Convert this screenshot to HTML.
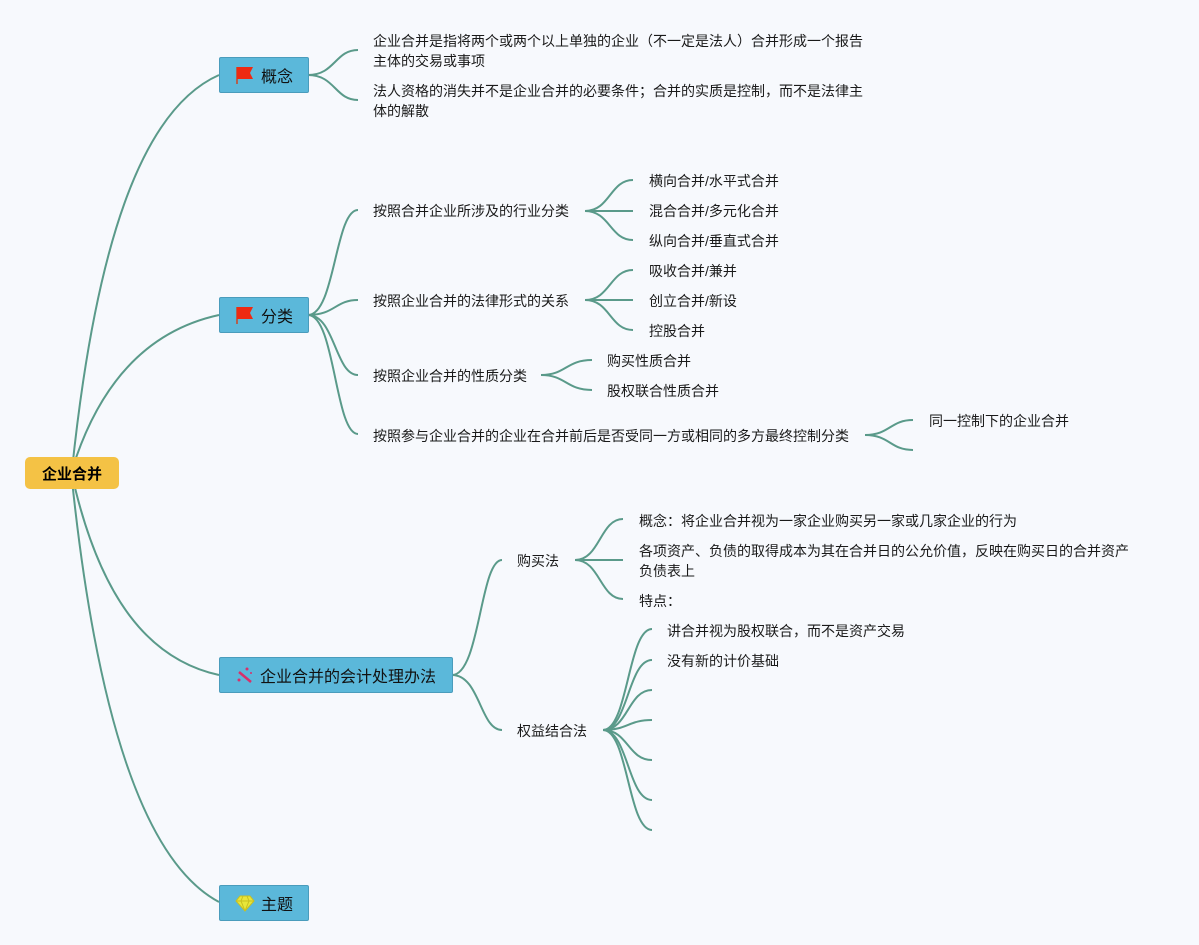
<!DOCTYPE html>
<html><head><meta charset="utf-8"><style>
body{margin:0;background:#f7f9fd;width:1199px;height:945px;overflow:hidden;font-family:"Liberation Sans","Noto Sans CJK SC",sans-serif}
svg{position:absolute;left:0;top:0}
.t{position:absolute;font-size:14px;color:#1a1a1a;line-height:20px;white-space:nowrap}
.b{position:absolute;background:#5bb8da;border:1px solid #4a9cbc;border-radius:2px;box-sizing:border-box;font-size:16px;color:#111;display:flex;align-items:center;justify-content:center;gap:6px}
.flag{display:inline-block;width:20px;height:20px;position:relative}
</style></head><body>
<svg width="1199" height="945" fill="none" stroke="#5a9a8a" stroke-width="2">
<!-- root -->
<path d="M72 470 C 95 250, 140 110, 219 75"/>
<path d="M72 470 C 100 380, 150 330, 219 315"/>
<path d="M72 475 C 100 600, 150 660, 219 675"/>
<path d="M72 480 C 95 700, 140 860, 219 902"/>
<!-- 概念 -->
<path d="M308 75 C 335 75, 335 50, 358 50"/>
<path d="M308 75 C 335 75, 335 100, 358 100"/>
<!-- 分类 -->
<path d="M308 315 C 335 315, 335 210, 358 210"/>
<path d="M308 315 C 335 315, 335 300, 358 300"/>
<path d="M308 315 C 335 315, 335 375, 358 375"/>
<path d="M308 315 C 335 315, 335 434, 358 434"/>
<path d="M585 211 C 610 211, 610 180, 633 180"/>
<path d="M585 211 L633 211"/>
<path d="M585 211 C 610 211, 610 240, 633 240"/>
<path d="M585 300 C 610 300, 610 270, 633 270"/>
<path d="M585 300 L633 300"/>
<path d="M585 300 C 610 300, 610 330, 633 330"/>
<path d="M541 375 C 566 375, 566 360, 592 360"/>
<path d="M541 375 C 566 375, 566 390, 592 390"/>
<path d="M865 435 C 890 435, 890 420, 913 420"/>
<path d="M865 435 C 890 435, 890 450, 913 450"/>
<!-- 会计 -->
<path d="M452 675 C 480 675, 480 560, 502 560"/>
<path d="M452 675 C 480 675, 480 730, 502 730"/>
<path d="M575 560 C 600 560, 600 519, 623 519"/>
<path d="M575 560 L623 560"/>
<path d="M575 560 C 600 560, 600 599, 623 599"/>
<path d="M603 730 C 628 730, 628 629, 652 629"/>
<path d="M603 730 C 628 730, 628 660, 652 660"/>
<path d="M603 730 C 628 730, 628 690, 652 690"/>
<path d="M603 730 C 628 730, 628 720, 652 720"/>
<path d="M603 730 C 628 730, 628 760, 652 760"/>
<path d="M603 730 C 628 730, 628 800, 652 800"/>
<path d="M603 730 C 628 730, 628 830, 652 830"/>
</svg>

<div style="position:absolute;left:25px;top:457px;width:94px;height:32px;background:#f4c245;border-radius:5px;font-size:15px;font-weight:bold;display:flex;align-items:center;justify-content:center">企业合并</div>

<div class="b" style="left:219px;top:57px;width:90px;height:36px"><svg class="flag" style="position:static" width="20" height="20" viewBox="0 0 20 20"><path d="M2 2 L2 19" stroke="#c42" stroke-width="1.5"/><path d="M2 2 L18 2 L15 8 L18 14 L2 14Z" fill="#ee2a12"/></svg>概念</div>
<div class="b" style="left:219px;top:297px;width:90px;height:36px"><svg style="position:static" width="20" height="20" viewBox="0 0 20 20"><path d="M2 2 L2 19" stroke="#c42" stroke-width="1.5"/><path d="M2 2 L18 2 L15 8 L18 14 L2 14Z" fill="#ee2a12"/></svg>分类</div>
<div class="b" style="left:219px;top:657px;width:234px;height:36px"><svg style="position:static" width="18" height="18" viewBox="0 0 18 18"><path d="M3 6 L15 16" stroke="#d8306a" stroke-width="2.5"/><circle cx="11" cy="3" r="1.5" fill="#d8306a"/><circle cx="15" cy="7" r="1" fill="#d8306a"/><circle cx="3" cy="14" r="1.5" fill="#d8306a"/></svg>企业合并的会计处理办法</div>
<div class="b" style="left:219px;top:885px;width:90px;height:36px"><svg style="position:static" width="20" height="18" viewBox="0 0 20 18"><path d="M5 2 L15 2 L19 7 L10 17 L1 7Z" fill="#e8e63a" stroke="#c8c020"/><path d="M1 7 L19 7 M10 17 L6 7 L8 2 M10 17 L14 7 L12 2" stroke="#c8c020" fill="none"/></svg>主题</div>

<div class="t" style="left:373px;top:31px">企业合并是指将两个或两个以上单独的企业（不一定是法人）合并形成一个报告<br>主体的交易或事项</div>
<div class="t" style="left:373px;top:81px">法人资格的消失并不是企业合并的必要条件；合并的实质是控制，而不是法律主<br>体的解散</div>

<div class="t" style="left:373px;top:201px">按照合并企业所涉及的行业分类</div>
<div class="t" style="left:373px;top:291px">按照企业合并的法律形式的关系</div>
<div class="t" style="left:373px;top:366px">按照企业合并的性质分类</div>
<div class="t" style="left:373px;top:426px">按照参与企业合并的企业在合并前后是否受同一方或相同的多方最终控制分类</div>

<div class="t" style="left:649px;top:171px">横向合并/水平式合并</div>
<div class="t" style="left:649px;top:201px">混合合并/多元化合并</div>
<div class="t" style="left:649px;top:231px">纵向合并/垂直式合并</div>
<div class="t" style="left:649px;top:261px">吸收合并/兼并</div>
<div class="t" style="left:649px;top:291px">创立合并/新设</div>
<div class="t" style="left:649px;top:321px">控股合并</div>
<div class="t" style="left:607px;top:351px">购买性质合并</div>
<div class="t" style="left:607px;top:381px">股权联合性质合并</div>
<div class="t" style="left:929px;top:411px">同一控制下的企业合并</div>

<div class="t" style="left:517px;top:551px">购买法</div>
<div class="t" style="left:517px;top:721px">权益结合法</div>
<div class="t" style="left:639px;top:511px">概念：将企业合并视为一家企业购买另一家或几家企业的行为</div>
<div class="t" style="left:639px;top:541px">各项资产、负债的取得成本为其在合并日的公允价值，反映在购买日的合并资产<br>负债表上</div>
<div class="t" style="left:639px;top:591px">特点：</div>
<div class="t" style="left:667px;top:621px">讲合并视为股权联合，而不是资产交易</div>
<div class="t" style="left:667px;top:651px">没有新的计价基础</div>
</body></html>
